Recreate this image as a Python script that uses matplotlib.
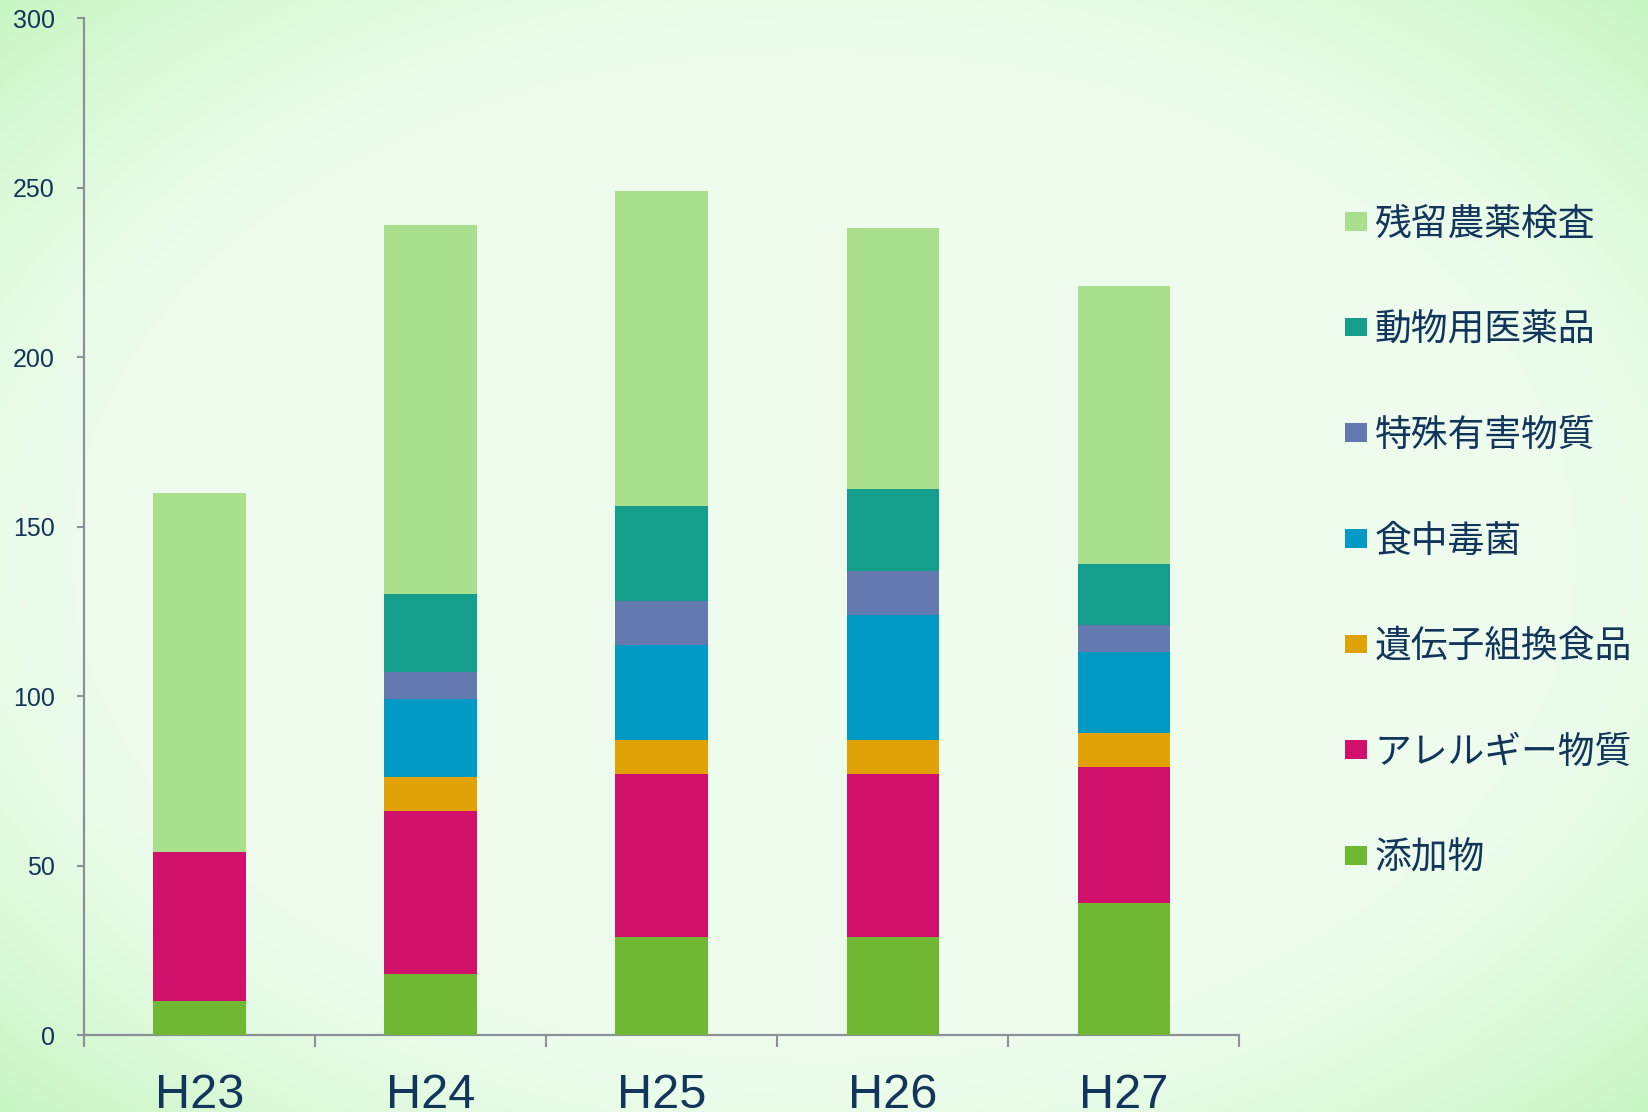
import numpy as np
import matplotlib
matplotlib.use("Agg")
import matplotlib.pyplot as plt
from matplotlib.patches import Patch

categories = ["H23", "H24", "H25", "H26", "H27"]
series_names = ["添加物", "アレルギー物質", "遺伝子組換食品", "食中毒菌", "特殊有害物質", "動物用医薬品", "残留農薬検査"]
additives = [10, 18, 29, 29, 39]
allergens = [44, 48, 48, 48, 40]
gmo = [0, 10, 10, 10, 10]
bacteria = [0, 23, 28, 37, 24]
toxic = [0, 8, 13, 13, 8]
vet_drugs = [0, 23, 28, 24, 18]
pesticides = [106, 109, 93, 77, 82]
series_values = [additives, allergens, gmo, bacteria, toxic, vet_drugs, pesticides]
colors = ["#70B833", "#D0106A", "#E0A206", "#009AC4", "#6479B0", "#169E8C", "#A9DF8D"]
yticks = [0, 50, 100, 150, 200, 250, 300]

text_color = "#12355B"
axis_color = "#8C9098"

fig = plt.figure(figsize=(16.48, 11.12), dpi=100)

# background radial gradient
bg = fig.add_axes([0, 0, 1, 1], zorder=-10)
h, w = 556, 824
yy, xx = np.mgrid[0:h, 0:w]
dx = (xx / (w - 1) - 0.5) * 2
dy = (yy / (h - 1) - 0.5) * 2
r = np.sqrt(dx ** 2 + dy ** 2) / np.sqrt(2)
t = np.clip((r - 0.62) / 0.38, 0, 1) ** 1.4
c0 = np.array([0.933, 0.992, 0.933])
c1 = np.array([0.78, 0.965, 0.76])
img = c0[None, None, :] * (1 - t[..., None]) + c1[None, None, :] * t[..., None]
bg.imshow(img, aspect="auto", extent=[0, 1, 0, 1], interpolation="bilinear")
bg.axis("off")

ax = fig.add_axes([0.051, 0.0692, 0.701, 0.9146])
ax.patch.set_alpha(0)
x = np.arange(len(categories))
bottom = np.zeros(len(categories))
handles = []
for name, vals, col in zip(series_names, series_values, colors):
    v = np.array(vals, dtype=float)
    ax.bar(x, v, width=0.4, bottom=bottom, color=col, edgecolor="none", zorder=3)
    bottom += v
    handles.append(Patch(facecolor=col, edgecolor="none", label=name))

ax.set_xlim(-0.5, len(categories) - 0.5)
ax.set_ylim(0, 300)
ax.set_yticks(yticks)
ax.set_yticklabels([str(v) for v in yticks], fontsize=18, color=text_color, family="Liberation Sans")
ax.set_xticks(x)
ax.set_xticklabels(categories, fontsize=35, color=text_color, family="Liberation Sans")
ax.set_xticks(np.arange(-0.5, len(categories)), minor=True)
ax.tick_params(axis="x", which="major", length=0, pad=27)
ax.tick_params(axis="x", which="minor", length=8.6, width=1.5, color=axis_color, direction="out")
ax.tick_params(axis="y", which="major", length=5, width=1.5, color=axis_color, pad=16)
for s in ["top", "right"]:
    ax.spines[s].set_visible(False)
for s in ["left", "bottom"]:
    ax.spines[s].set_color(axis_color)
    ax.spines[s].set_linewidth(1.6)

leg = fig.legend(handles=handles[::-1], loc="upper left", bbox_to_anchor=(0.816, 0.816),
                 frameon=False, prop={"family": ["Noto Sans CJK JP", "DejaVu Sans"], "size": 26.5},
                 handlelength=0.6, handleheight=0.41, handletextpad=0.21, labelspacing=1.81,
                 borderpad=0, borderaxespad=0)
for t_ in leg.get_texts():
    t_.set_color(text_color)

fig.savefig("out.png", dpi=100)
